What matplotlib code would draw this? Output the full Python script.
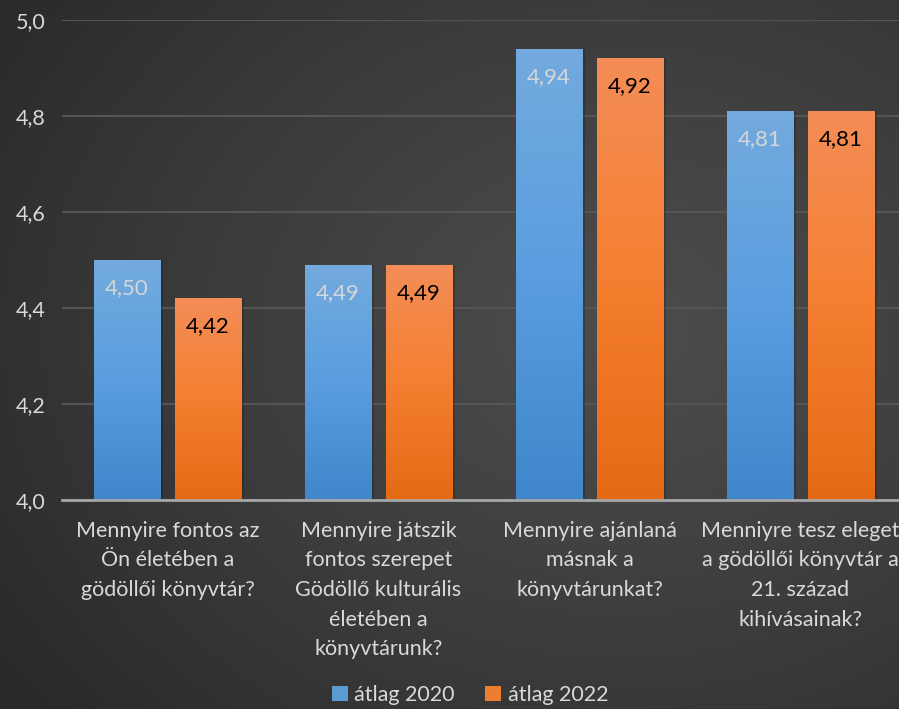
import numpy as np
import matplotlib
matplotlib.use("Agg")
import matplotlib.pyplot as plt
from matplotlib.patches import Patch
from matplotlib.colors import LinearSegmentedColormap

categories = [
    "Mennyire fontos az\nÖn életében a\ngödöllői könyvtár?",
    "Mennyire játszik\nfontos szerepet\nGödöllő kulturális\néletében a\nkönyvtárunk?",
    "Mennyire ajánlaná\nmásnak a\nkönyvtárunkat?",
    "Menniyre tesz eleget\na gödöllői könyvtár a\n21. század\nkihívásainak?",
]
series_names = ["átlag 2020", "átlag 2022"]
values_2020 = [4.50, 4.49, 4.94, 4.81]
values_2022 = [4.42, 4.49, 4.92, 4.81]
yticks = [4.0, 4.2, 4.4, 4.6, 4.8, 5.0]
ytick_labels = ["4,0", "4,2", "4,4", "4,6", "4,8", "5,0"]

plt.rcParams['font.family'] = ['Lato', 'DejaVu Sans']

W, H = 899, 709
fig = plt.figure(figsize=(W / 100, H / 100), dpi=100)

# background radial gradient
bg = fig.add_axes([0, 0, 1, 1])
yy, xx = np.mgrid[0:H, 0:W]
cx, cy = 620, 330
r = np.sqrt(((xx - cx) / W) ** 2 + ((yy - cy) / H) ** 2)
r = r / r.max()
val = 0x4c - (0x4c - 0x28) * r ** 1.2
img = np.dstack([val, val, val]) / 255.0
bg.imshow(img, aspect='auto', extent=[0, 1, 0, 1], origin='upper')
bg.axis('off')

ax = fig.add_axes([62 / W, 209 / H, 844 / W, 480 / H])
ax.patch.set_alpha(0)
ax.set_xlim(-0.5, 3.5)
ax.set_ylim(4.0, 5.0)

x = np.arange(len(categories))
bw = 0.313
off = 0.192
FS = 15.5

blue_cmap = LinearSegmentedColormap.from_list('b', ['#3f86cc', '#5a9ee0', '#73aade'])
orange_cmap = LinearSegmentedColormap.from_list('o', ['#e46a15', '#f57f30', '#f38d57'])
grad = np.linspace(0, 1, 256).reshape(-1, 1)

for vals, o, cmap, tcol in [(values_2020, -off, blue_cmap, '#d6d6d6'),
                            (values_2022, off, orange_cmap, '#000000')]:
    bars = ax.bar(x + o, [v - 4.0 for v in vals], bw, bottom=4.0,
                  color='none', edgecolor='none', zorder=3)
    for b, v in zip(bars, vals):
        # shadow
        ax.bar(b.get_x() + b.get_width() / 2 + 0.012, v - 4.0, bw, bottom=4.0,
               color='#000000', alpha=0.18, zorder=2.5, edgecolor='none')
        im = ax.imshow(grad, cmap=cmap, aspect='auto', origin='lower',
                       extent=[b.get_x(), b.get_x() + b.get_width(), 4.0, v],
                       zorder=3)
        im.set_clip_path(b)
        ax.annotate(f"{v:.2f}".replace('.', ','), (b.get_x() + b.get_width() / 2, v),
                    xytext=(0, -28), textcoords='offset pixels',
                    ha='center', va='center', fontsize=FS + 0.5, color=tcol, zorder=5)

ax.set_xlim(-0.5, 3.5)
ax.set_ylim(4.0, 5.0)

ax.set_yticks(yticks)
ax.set_yticklabels(ytick_labels)
ax.grid(axis='y', color='#555555', linewidth=1.5, zorder=1)
ax.set_axisbelow(True)
for s in ['top', 'right', 'left']:
    ax.spines[s].set_visible(False)
ax.spines['bottom'].set_color('#a6a6a6')
ax.spines['bottom'].set_linewidth(2)
ax.spines['bottom'].set_zorder(4)
ax.tick_params(axis='y', length=0, pad=12, labelsize=FS, colors='#d9d9d9')
ax.tick_params(axis='x', length=0, pad=15, labelsize=FS, colors='#d9d9d9')
ax.set_xticks(x)
ax.set_xticklabels(categories, linespacing=1.6)

handles = [Patch(facecolor='#5b9bd5'), Patch(facecolor='#ed7d31')]
fig.legend(handles, series_names, loc='center', bbox_to_anchor=(470 / W, 1 - 695 / H),
           ncol=2, frameon=False, fontsize=FS, labelcolor='#d9d9d9',
           handlelength=0.75, handleheight=0.75, handletextpad=0.3, columnspacing=1.4)

fig.savefig('out.png', dpi=100)
